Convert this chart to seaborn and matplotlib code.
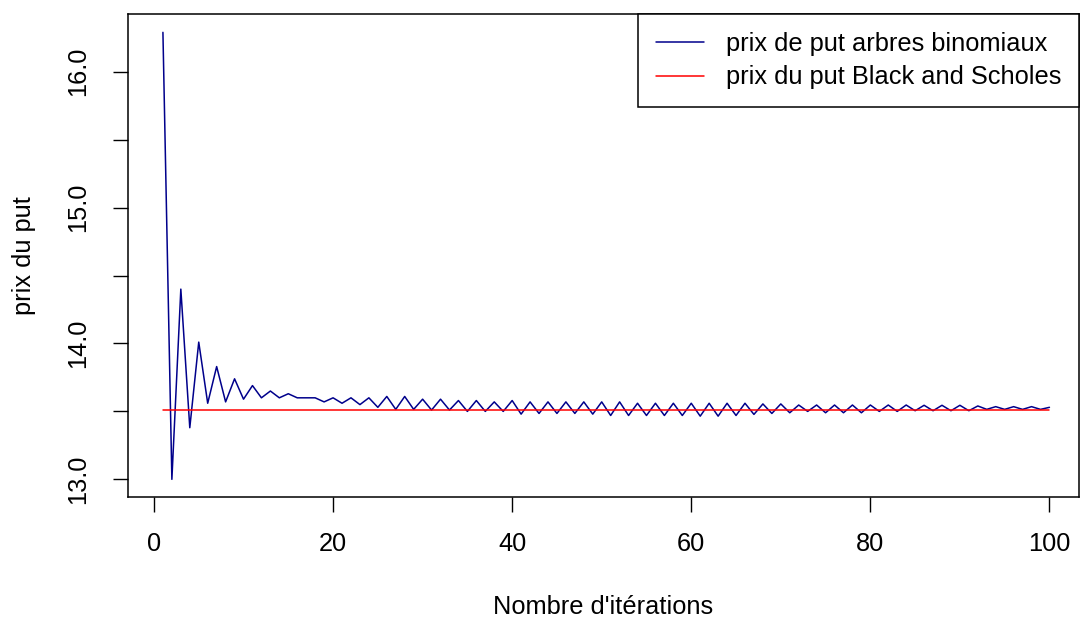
import numpy as np
import pandas as pd
import matplotlib
matplotlib.use("Agg")
import matplotlib.pyplot as plt
import seaborn as sns

# Put price from the binomial tree, for 1..100 steps
iterations = list(range(1, 101))
binomial_put = [
    16.29, 13.00, 14.40, 13.38, 14.01, 13.56, 13.83, 13.57, 13.74, 13.59,
    13.69, 13.60, 13.65, 13.60, 13.63, 13.60, 13.60, 13.60, 13.57, 13.60,
    13.56, 13.60, 13.55, 13.60, 13.53, 13.61, 13.515, 13.61, 13.515, 13.59,
    13.51, 13.59, 13.51, 13.58, 13.50, 13.58, 13.50, 13.57, 13.50, 13.58,
    13.48, 13.57, 13.485, 13.57, 13.485, 13.57, 13.485, 13.57, 13.48, 13.57,
    13.47, 13.57, 13.47, 13.56, 13.47, 13.56, 13.47, 13.56, 13.47, 13.56,
    13.465, 13.56, 13.465, 13.56, 13.47, 13.56, 13.478, 13.555, 13.485, 13.555,
    13.49, 13.547, 13.50, 13.547, 13.49, 13.547, 13.49, 13.547, 13.49, 13.547,
    13.50, 13.547, 13.50, 13.547, 13.505, 13.545, 13.505, 13.545, 13.505, 13.545,
    13.505, 13.54, 13.515, 13.535, 13.515, 13.535, 13.515, 13.535, 13.515, 13.53,
]
# Closed-form Black and Scholes put price
black_scholes_put = 13.51

x_ticks = [0, 20, 40, 60, 80, 100]
y_ticks = [13.0, 13.5, 14.0, 14.5, 15.0, 15.5, 16.0]
y_ticklabels = ["13.0", "", "14.0", "", "15.0", "", "16.0"]

label_binomial = "prix de put arbres binomiaux"
label_bs = "prix du put Black and Scholes"

df = pd.DataFrame({
    "n": iterations,
    "binomial": binomial_put,
    "bs": [black_scholes_put] * len(iterations),
})

sns.set_theme(style="white")
plt.rcParams["font.family"] = ["Liberation Sans", "DejaVu Sans"]
plt.rcParams["text.color"] = "black"
plt.rcParams["axes.labelcolor"] = "black"

fig = plt.figure(figsize=(10.81, 6.22), dpi=100)
ax = fig.add_axes([128 / 1081, 125 / 622, (1079 - 128) / 1081, (497 - 14) / 622])

sns.lineplot(data=df, x="n", y="binomial", ax=ax, color="#00008B",
             linewidth=1.1, label=label_binomial)
sns.lineplot(data=df, x="n", y="bs", ax=ax, color="red",
             linewidth=1.1, label=label_bs)

ax.set_xlim(-2.9, 103.3)
ax.set_ylim(12.87, 16.425)

fs = 18.3
ax.set_xticks(x_ticks)
ax.set_xticklabels([str(t) for t in x_ticks], fontsize=fs)
ax.set_yticks(y_ticks)
ax.set_yticklabels(y_ticklabels, fontsize=fs, rotation=90, va="center")
ax.tick_params(axis="both", direction="out", length=11, width=1.0,
               color="black", labelcolor="black", bottom=True, left=True)
ax.tick_params(axis="x", pad=14)
ax.tick_params(axis="y", pad=16)

ax.set_xlabel("Nombre d'itérations", fontsize=fs, labelpad=28, color="black")
ax.set_ylabel("prix du put", fontsize=fs, labelpad=22, color="black")

for side in ["left", "right", "top", "bottom"]:
    ax.spines[side].set_visible(True)
    ax.spines[side].set_color("black")
    ax.spines[side].set_linewidth(1.1)

leg = ax.legend(loc="upper right", bbox_to_anchor=(1.0, 1.0), borderaxespad=0,
                fontsize=fs, frameon=True, fancybox=False, framealpha=1,
                edgecolor="black", handlelength=1.9, handletextpad=0.85,
                borderpad=0.7, labelspacing=0.38)
leg.get_frame().set_linewidth(1.1)
for t in leg.get_texts():
    t.set_color("black")

fig.savefig("out.png", dpi=100)
